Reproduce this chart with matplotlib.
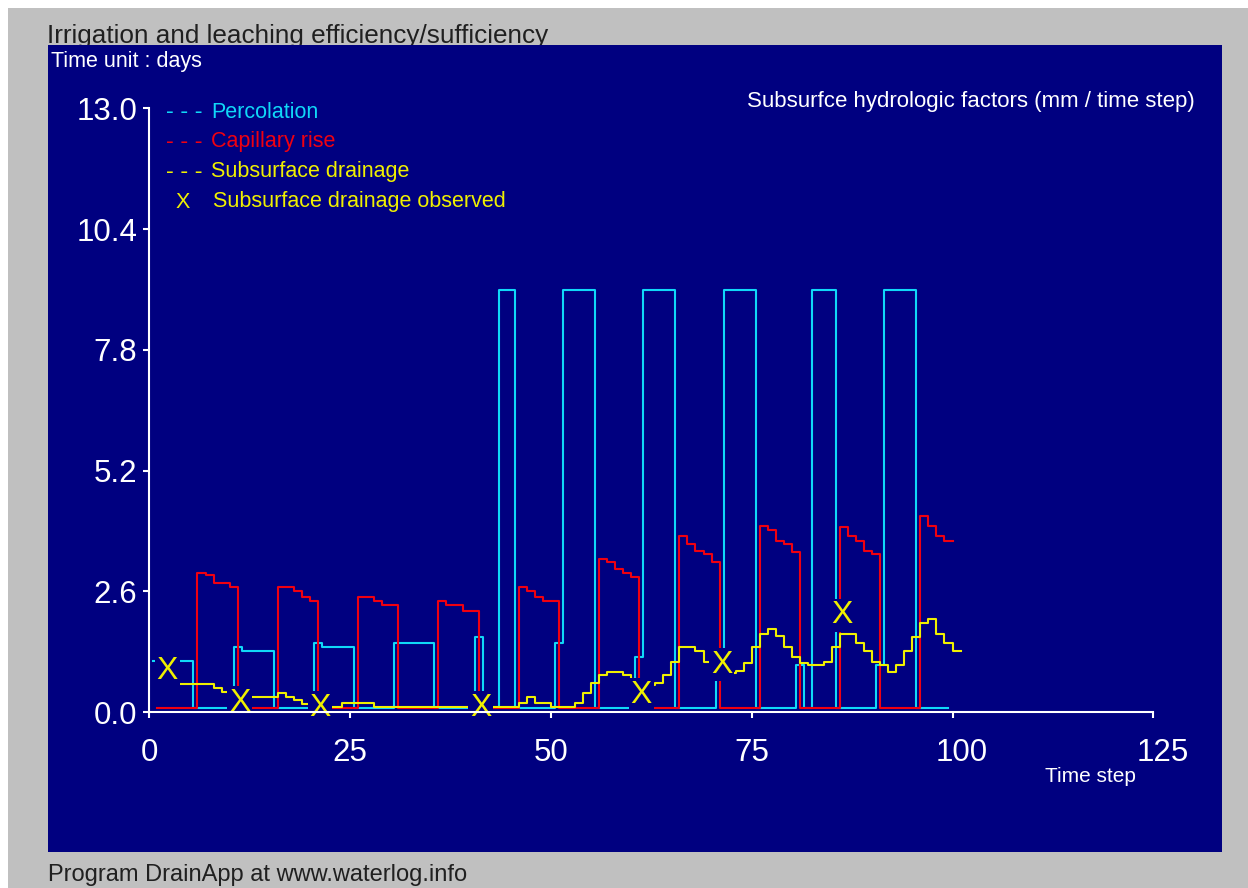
import numpy as np
import matplotlib
matplotlib.use('Agg')
import matplotlib.pyplot as plt
from matplotlib.patches import Rectangle
from matplotlib.transforms import offset_copy

plt.rcParams['font.family'] = ['Liberation Sans', 'DejaVu Sans']

# time steps (days)
t_red = np.arange(1, 100)
t_cyan = np.arange(1, 100)
t_yel = np.arange(1, 101)

# percolation, value per time step (centred on the step)
percolation = [
    1.10, 1.10, 1.10, 1.10, 1.10, 0.08, 0.08, 0.08, 0.08, 0.08,
    1.39, 1.32, 1.32, 1.32, 1.32, 0.08, 0.08, 0.08, 0.08, 0.08,
    1.49, 1.39, 1.39, 1.39, 1.39, 0.08, 0.08, 0.08, 0.08, 0.08,
    1.49, 1.49, 1.49, 1.49, 1.49, 0.08, 0.08, 0.08, 0.08, 0.08,
    1.61, 0.08, 0.08, 9.09, 9.09, 0.08, 0.08, 0.08, 0.08, 0.08,
    1.48, 9.09, 9.09, 9.09, 9.09, 0.08, 0.08, 0.08, 0.08, 0.08,
    1.19, 9.09, 9.09, 9.09, 9.09, 0.08, 0.08, 0.08, 0.08, 0.08,
    1.30, 9.09, 9.09, 9.09, 9.09, 0.08, 0.08, 0.08, 0.08, 0.08,
    1.01, 0.08, 9.09, 9.09, 9.09, 0.08, 0.08, 0.08, 0.08, 0.08,
    1.01, 9.09, 9.09, 9.09, 9.09, 0.08, 0.08, 0.08, 0.08,
]

capillary_rise = [
    0.08, 0.08, 0.08, 0.08, 0.08, 3.00, 2.94, 2.77, 2.77, 2.70,
    0.08, 0.08, 0.08, 0.08, 0.08, 2.70, 2.70, 2.61, 2.48, 2.39,
    0.08, 0.08, 0.08, 0.08, 0.08, 2.48, 2.48, 2.40, 2.31, 2.31,
    0.08, 0.08, 0.08, 0.08, 0.08, 2.40, 2.31, 2.31, 2.18, 2.18,
    0.08, 0.08, 0.08, 0.08, 0.08, 2.69, 2.61, 2.47, 2.39, 2.39,
    0.08, 0.08, 0.08, 0.08, 0.08, 3.30, 3.22, 3.08, 2.99, 2.90,
    0.08, 0.08, 0.08, 0.08, 0.08, 3.78, 3.61, 3.47, 3.40, 3.22,
    0.08, 0.08, 0.08, 0.08, 0.08, 4.01, 3.91, 3.68, 3.61, 3.45,
    0.08, 0.08, 0.08, 0.08, 0.08, 3.99, 3.78, 3.69, 3.47, 3.40,
    0.08, 0.08, 0.08, 0.08, 0.08, 4.22, 4.01, 3.78, 3.69,
]

drainage = [
    0.61, 0.61, 0.61, 0.61, 0.61, 0.61, 0.61, 0.52, 0.42, 0.36,
    0.34, 0.32, 0.32, 0.32, 0.32, 0.40, 0.33, 0.26, 0.17, 0.13,
    0.11, 0.11, 0.11, 0.19, 0.19, 0.19, 0.19, 0.11, 0.11, 0.11,
    0.11, 0.11, 0.11, 0.11, 0.11, 0.11, 0.11, 0.11, 0.11, 0.11,
    0.11, 0.11, 0.11, 0.11, 0.11, 0.19, 0.32, 0.19, 0.19, 0.11,
    0.11, 0.11, 0.19, 0.40, 0.62, 0.80, 0.87, 0.87, 0.80, 0.70,
    0.62, 0.58, 0.63, 0.80, 1.07, 1.41, 1.41, 1.31, 1.08, 0.95,
    0.85, 0.83, 0.88, 1.05, 1.41, 1.69, 1.79, 1.64, 1.41, 1.19,
    1.05, 1.01, 1.01, 1.08, 1.41, 1.69, 1.69, 1.48, 1.31, 1.08,
    1.01, 0.87, 1.01, 1.31, 1.62, 1.91, 2.00, 1.69, 1.48, 1.31,
]

obs_t = [2, 11, 21, 41, 61, 71, 86]
obs_v = [0.95, 0.26, 0.15, 0.15, 0.43, 1.08, 2.15]

y_ticks = [0.0, 2.6, 5.2, 7.8, 10.4, 13.0]
x_ticks = [0, 25, 50, 75, 100, 125]

NAVY = '#000080'
CYAN = '#10d8f8'
RED = '#f00010'
YEL = '#f0f000'

W, H = 1248, 888


def fx(px):
    return px / W


def fy(py):
    return 1 - py / H


fig = plt.figure(figsize=(W / 100, H / 100), dpi=100)
fig.patch.set_facecolor('white')
fig.patches.append(Rectangle((fx(8), 0), 1 - fx(8), fy(8), transform=fig.transFigure,
                             facecolor='#c0c0c0', edgecolor='none', zorder=0.1))
fig.text(fx(47), fy(43), 'Irrigation and leaching efficiency/sufficiency', fontsize=18.8,
         color='#202020', va='baseline', ha='left', zorder=0.5)
fig.patches.append(Rectangle((fx(48), fy(852)), fx(1222) - fx(48), fy(45) - fy(852),
                             transform=fig.transFigure, facecolor=NAVY, edgecolor='none', zorder=1))

ax = fig.add_axes([fx(149.3), fy(712), fx(1153.3) - fx(149.3), fy(108.4) - fy(712)])
ax.set_zorder(3)
ax.patch.set_visible(False)
ax.set_xlim(0, 125)
ax.set_ylim(0, 13)

# step lines
xc = np.append(t_cyan - 0.5, t_cyan[-1] + 0.5)
ax.step(xc, np.append(percolation, percolation[-1]), where='post', color=CYAN, lw=1.5, zorder=2)
xr = np.append(t_red, t_red[-1] + 1)
ax.step(xr, np.append(capillary_rise, capillary_rise[-1]), where='post', color=RED, lw=1.5, zorder=2.1)
xy = np.append(t_yel, t_yel[-1] + 1)
ax.step(xy, np.append(drainage, drainage[-1]), where='post', color=YEL, lw=1.5, zorder=2.2)

# observed points, drawn as opaque "X" labels like the original program
x_tr = offset_copy(ax.transData, fig=fig, x=2, y=-3, units='dots')
for t, v in zip(obs_t, obs_v):
    ax.text(t, v, 'X', color=YEL, fontsize=23, ha='center', va='center', zorder=5,
            transform=x_tr,
            bbox=dict(boxstyle='square,pad=0.05', facecolor=NAVY, edgecolor='none'))

for side in ['top', 'right']:
    ax.spines[side].set_visible(False)
for side in ['left', 'bottom']:
    ax.spines[side].set_color('white')
    ax.spines[side].set_linewidth(1.5)
    ax.spines[side].set_zorder(10)

ax.set_yticks(y_ticks)
ax.set_yticklabels(['%.1f' % v for v in y_ticks])
ax.set_xticks(x_ticks)
ax.set_xticklabels([str(v) for v in x_ticks])
ax.tick_params(axis='y', colors='white', labelsize=22.5, length=4.5, width=1.5, pad=4)
ax.tick_params(axis='x', colors='white', labelsize=22.5, length=4.5, width=1.5, pad=14)
for lab in ax.get_xticklabels():
    if len(lab.get_text()) > 2:
        lab.set_transform(offset_copy(lab.get_transform(), fig=fig, x=9, y=0, units='dots'))

# texts in the panel
fig.text(fx(51), fy(62), 'Time unit : days', fontsize=15.5, color='white', va='center', zorder=4)
fig.text(fx(1195), fy(102), 'Subsurfce hydrologic factors (mm / time step)', fontsize=16,
         color='white', va='center', ha='right', zorder=4)
fig.text(fx(1045), fy(776), 'Time step', fontsize=15, color='white', va='center', zorder=4)
fig.text(fx(48), fy(875), 'Program DrainApp at www.waterlog.info', fontsize=17, color='#202020',
         va='center', zorder=4)

legend_rows = [('- - -', 'Percolation', CYAN), ('- - -', 'Capillary rise', RED),
               ('- - -', 'Subsurface drainage', YEL)]
for i, (mark, label, col) in enumerate(legend_rows):
    yy = fy(112 + 30 * i)
    fig.text(fx(166), yy, mark, fontsize=17, color=col, va='center', zorder=4)
    fig.text(fx(211), yy, label, fontsize=15.5, color=col, va='center', zorder=4)
fig.text(fx(176), fy(202), 'X', fontsize=15.5, color=YEL, va='center', zorder=4)
fig.text(fx(213), fy(202), 'Subsurface drainage observed', fontsize=15.5, color=YEL, va='center', zorder=4)

fig.savefig('out.png', dpi=100)
